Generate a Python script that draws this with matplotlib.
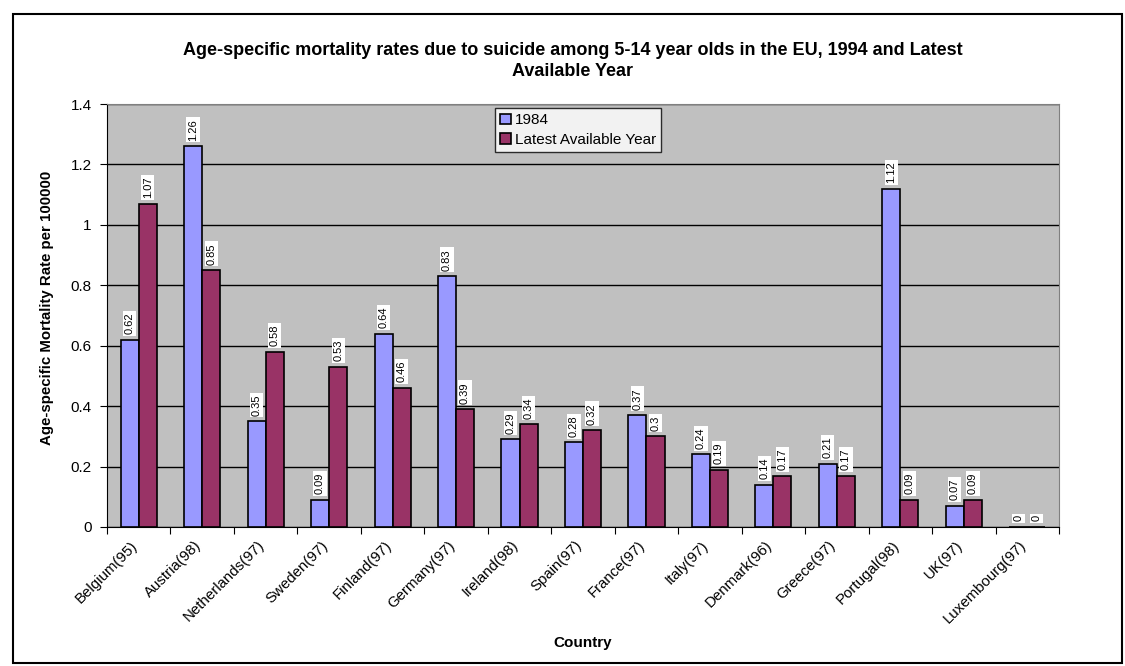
import matplotlib.pyplot as plt
import numpy as np
from matplotlib.patches import Rectangle

plt.rcParams['font.family'] = ['Liberation Sans', 'DejaVu Sans']

countries = ['Belgium(95)', 'Austria(98)', 'Netherlands(97)', 'Sweden(97)', 'Finland(97)',
             'Germany(97)', 'Ireland(98)', 'Spain(97)', 'France(97)', 'Italy(97)',
             'Denmark(96)', 'Greece(97)', 'Portugal(98)', 'UK(97)', 'Luxembourg(97)']
rate_1984 = [0.62, 1.26, 0.35, 0.09, 0.64, 0.83, 0.29, 0.28, 0.37, 0.24, 0.14, 0.21, 1.12, 0.07, 0]
rate_latest = [1.07, 0.85, 0.58, 0.53, 0.46, 0.39, 0.34, 0.32, 0.3, 0.19, 0.17, 0.17, 0.09, 0.09, 0]

fig = plt.figure(figsize=(11.25, 6.66), dpi=100)
fig.patches.append(Rectangle((13/1125, 0.004), 1109/1125, 1-14/666-0.004, transform=fig.transFigure,
                             fill=False, edgecolor='black', linewidth=1.5))
ax = fig.add_axes([107/1125, 1-527/666, (1059-107)/1125, (527-104)/666])
ax.set_facecolor('#C0C0C0')

x = np.arange(len(countries))
w = 0.285
b1 = ax.bar(x - w/2, rate_1984, w, color='#9999FF', edgecolor='black', linewidth=1.2, label='1984', zorder=3)
b2 = ax.bar(x + w/2, rate_latest, w, color='#993366', edgecolor='black', linewidth=1.2,
            label='Latest Available Year', zorder=3)

# value labels, vertical, on white boxes
for bars, vals in [(b1, rate_1984), (b2, rate_latest)]:
    for bar, v in zip(bars, vals):
        ax.annotate('%g' % v, (bar.get_x() + bar.get_width()/2, v), xytext=(0, 4),
                    textcoords='offset points', rotation=90, ha='center', va='bottom', fontsize=8,
                    bbox=dict(facecolor='white', edgecolor='none', pad=1.2), zorder=4)

ax.set_xlim(-0.5, len(countries) - 0.5)
ax.set_ylim(0, 1.4)
ax.set_yticks(np.arange(0, 1.41, 0.2))
ax.set_yticklabels(['0', '0.2', '0.4', '0.6', '0.8', '1', '1.2', '1.4'], fontsize=11)
ax.yaxis.grid(True, color='black', linewidth=1, zorder=0)
ax.set_axisbelow(True)
ax.set_xticks(np.arange(len(countries) + 1) - 0.5, minor=False)
ax.set_xticklabels([])
# category labels sit a little left of the group centre, like Excel does
ax.set_xticks(x - 0.13, minor=True)
ax.set_xticklabels(countries, minor=True, rotation=45, ha='right', va='top', rotation_mode='anchor', fontsize=10.8)
ax.tick_params(axis='x', which='minor', length=0, pad=8)
ax.tick_params(axis='x', which='major', length=5, direction='out')
ax.tick_params(axis='y', length=5, pad=6)
for s in ['top', 'right']:
    ax.spines[s].set_color('#808080')
ax.spines['left'].set_color('black')
ax.spines['bottom'].set_color('black')

ax.set_xlabel('Country', fontsize=11, fontweight='bold', va='center')
ax.xaxis.set_label_coords(0.5, -(643-527)/423)
ax.set_ylabel('Age-specific Mortality Rate per 100000', fontsize=10.8, fontweight='bold', va='center')
ax.yaxis.set_label_coords((47-107)/952, 0.517)
fig.text(0.509, 1-42/666, 'Age-specific mortality rates due to suicide among 5-14 year olds in the EU, 1994 and Latest\nAvailable Year',
         ha='center', va='top', fontsize=13, fontweight='bold', linespacing=1.3)

leg = ax.legend(loc='upper left', bbox_to_anchor=(0.4076, 0.9905), fontsize=11, frameon=True, fancybox=False,
                edgecolor='black', handlelength=0.7, handleheight=0.7, handletextpad=0.25,
                borderpad=0.35, labelspacing=0.35, borderaxespad=0)
leg.get_frame().set_linewidth(1)

plt.savefig('out.png', dpi=100)
